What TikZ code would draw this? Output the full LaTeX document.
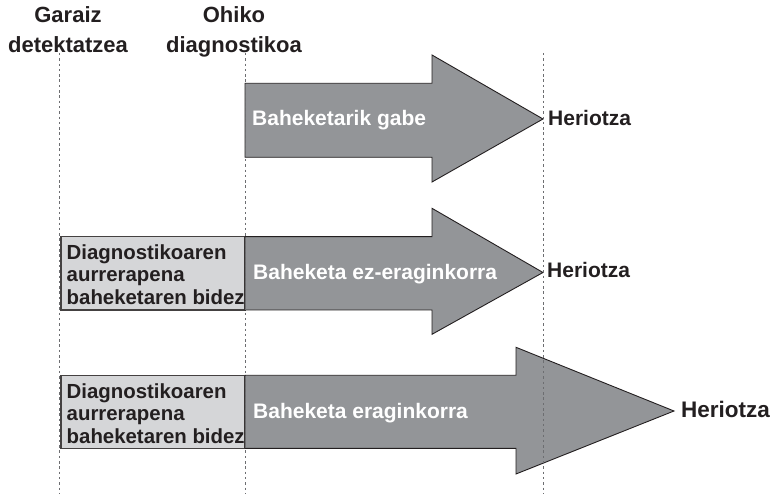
\documentclass[tikz,border=0pt]{standalone}
\usepackage{fontspec}
\setmainfont{Liberation Sans}
\definecolor{arrowgray}{HTML}{939598}
\definecolor{boxgray}{HTML}{D5D6D8}
\definecolor{ink}{HTML}{231F20}
\definecolor{dotgray}{HTML}{6D6E71}
\begin{document}
\begin{tikzpicture}[x=1pt,y=-1pt,
  bigarrow/.style={fill=arrowgray,draw=ink,line width=0.9pt,line join=miter},
  earlybox/.style={fill=boxgray,draw=ink!85,line width=1.1pt},
  timeline/.style={draw=dotgray,line width=1pt,dash pattern=on 2.5pt off 2.8pt},
  headtxt/.style={inner sep=0pt,align=center,text=ink,font=\fontsize{22}{29.4}\selectfont\bfseries},
  boxtxt/.style={inner sep=0pt,align=left,text=ink,font=\fontsize{20.4}{22.5}\selectfont\bfseries},
  whitetxt/.style={inner sep=0pt,text=white,font=\fontsize{21}{25}\selectfont\bfseries},
  deathtxt/.style={inner sep=0pt,text=ink,font=\fontsize{21}{25}\selectfont\bfseries}]
\useasboundingbox (0,0) rectangle (777,494);

% arrow 1
\draw[bigarrow] (245,83.3) -- (432,83.3) -- (432,55) -- (543,119) -- (432,182)
  -- (432,157.3) -- (245,157.3) -- cycle;
% arrow 2
\draw[earlybox] (61,236.7) rectangle (245,310);
\draw[bigarrow] (245,236.7) -- (432,236.7) -- (432,208.3) -- (543,272.5) -- (432,334.3)
  -- (432,310) -- (245,310) -- cycle;
% arrow 3
\draw[earlybox] (61,375.3) rectangle (245,448.3);
\draw[bigarrow] (245,375.3) -- (516,375.3) -- (516,347.3) -- (674,411) -- (516,474)
  -- (516,448.3) -- (245,448.3) -- cycle;

% headings
\node[headtxt,anchor=north] (early) at (68,6.5) {Garaiz\\detektatzea};
\node[headtxt,anchor=north] (usual) at (234,6.5) {Ohiko\\diagnostikoa};

% arrow texts
\node[whitetxt,anchor=base west] (t1) at (252,126) {Baheketarik gabe};
\node[whitetxt,anchor=base west] (t2) at (253,279.3) {Baheketa ez-eraginkorra};
\node[whitetxt,anchor=base west] (t3) at (253,418) {Baheketa eraginkorra};

\node[boxtxt,anchor=north west] (b2) at (66.5,244.5) {Diagnostikoaren\\aurrerapena\\baheketaren bidez};
\node[boxtxt,anchor=north west] (b3) at (66.5,383.2) {Diagnostikoaren\\aurrerapena\\baheketaren bidez};

\node[deathtxt,anchor=base west] (d1) at (548,126) {Heriotza};
\node[deathtxt,anchor=base west] (d2) at (547,278) {Heriotza};
\node[deathtxt,anchor=base west,font=\fontsize{22.5}{25}\selectfont\bfseries] (d3) at (681,417.3) {Heriotza};

% dotted time lines
\coordinate (l1a) at (59.5,53); \coordinate (l1b) at (59.5,494);
\coordinate (l2a) at (245,53); \coordinate (l2b) at (245,494);
\coordinate (l3a) at (543.5,53); \coordinate (l3b) at (543.5,494);
\draw[timeline] (l1a) -- (l1b);
\draw[timeline] (l2a) -- (l2b);
\draw[timeline] (l3a) -- (l3b);
\end{tikzpicture}
\end{document}
